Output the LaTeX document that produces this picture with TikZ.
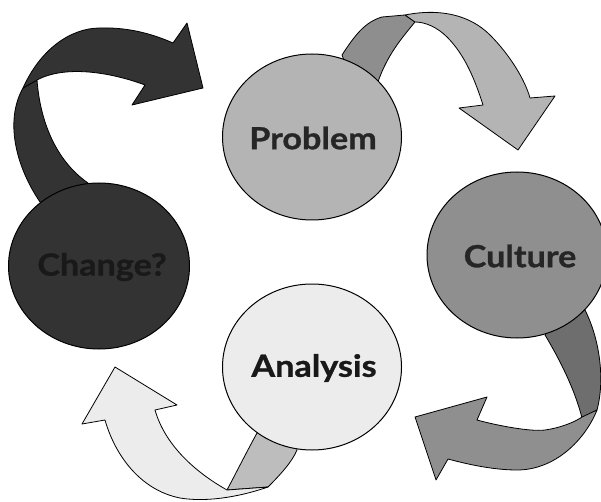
\documentclass[tikz,border=0pt]{standalone}
\usepackage{fontspec}
\setmainfont{Lato}
\newfontfamily\lblfont{Lato}[FakeStretch=1.12, BoldFeatures={FakeBold=1}]
\usetikzlibrary{shapes.geometric}
\definecolor{cDark}{HTML}{333333}
\definecolor{cProb}{HTML}{B4B4B4}
\definecolor{cProbB}{HTML}{8E8E8E}
\definecolor{cCult}{HTML}{8F8F8F}
\definecolor{cCultB}{HTML}{6E6E6E}
\definecolor{cAna}{HTML}{ECECEC}
\definecolor{cAnaB}{HTML}{BDBDBD}
\begin{document}
\begin{tikzpicture}[x=1pt,y=-1pt,
  ribbon/.style={draw=black, line width=0.8pt, line join=round},
  blob/.style={draw=black, line width=1pt, ellipse, inner sep=0pt},
  lbl/.style={font=\lblfont\fontsize{30.5}{32}\selectfont\bfseries, inner sep=0pt}]
\useasboundingbox (0,0) rectangle (601,502);
\clip (0,0) rectangle (601,502);

% Arrow 1: Change? -> Problem (dark)
\path[ribbon, fill=cDark] (60,225) -- (40,202) .. controls (15,165) and (5,120) .. (23,88)
  -- (37,80) .. controls (40,120) and (55,160) .. (88,183) -- (95,215) -- cycle;
\path[ribbon, fill=cDark] (23,88) .. controls (40,50) and (70,28) .. (100,28)
  .. controls (130,27) and (155,35) .. (173,43) -- (187,23) -- (203,88) -- (132,105) -- (145,85)
  .. controls (110,72) and (65,65) .. (37,80) -- cycle;

% Arrow 2: Problem -> Culture
\path[ribbon, fill=cProbB] (355,90) -- (342,55) .. controls (355,35) and (365,22) .. (382,17)
  -- (405,15) -- (415,22) .. controls (400,40) and (388,55) .. (379,79) -- (372,100) -- cycle;
\path[ribbon, fill=cProb] (405,15) .. controls (440,8) and (470,15) .. (490,35)
  .. controls (510,55) and (525,80) .. (530,98) -- (555,96) -- (518,150) -- (459,108) -- (483,105)
  .. controls (475,80) and (465,55) .. (447,37) .. controls (437,27) and (425,22) .. (415,22) -- cycle;

% Arrow 3: Culture -> Analysis
\path[ribbon, fill=cCultB] (555,315) -- (545,335) .. controls (560,360) and (575,390) .. (582,418)
  -- (597,410) .. controls (605,380) and (600,340) .. (585,310) -- (575,300) -- cycle;
\path[ribbon, fill=cCult] (597,410) .. controls (585,440) and (555,470) .. (517,470)
  .. controls (495,470) and (470,465) .. (448,459) -- (436,480) -- (415,417) -- (487,397) -- (477,420)
  .. controls (495,425) and (530,432) .. (545,430) .. controls (560,428) and (575,422) .. (582,417) -- cycle;

% Arrow 4: Analysis -> Change?
\path[ribbon, fill=cAnaB] (270,415) -- (257,433) .. controls (245,455) and (235,475) .. (227,490)
  -- (268,487) .. controls (280,475) and (292,462) .. (297,450) -- (295,420) -- cycle;
\path[ribbon, fill=cAna] (227,490) .. controls (195,472) and (165,445) .. (155,410)
  -- (177,405) -- (115,367) -- (82,424) -- (105,420)
  .. controls (115,455) and (140,490) .. (180,498) .. controls (210,503) and (245,495) .. (268,487) -- cycle;

% Circles
\node[blob, fill=cProb, minimum width=179pt, minimum height=166pt] (prob) at (312,137) {};
\node[blob, fill=cCult, minimum width=180pt, minimum height=166pt] (cult) at (517,255) {};
\node[blob, fill=cDark, minimum width=181pt, minimum height=166pt] (chg) at (99,266) {};
\node[blob, fill=cAna, minimum width=179pt, minimum height=166pt] (ana) at (312,367) {};

% Labels
\node[lbl, text=black!85] (probT) at (313,138) {Problem};
\node[lbl, text=black!85] (cultT) at (520,256) {Culture};
\node[lbl, text=black!90] (chgT) at (102,267) {Change?};
\node[lbl, text=black!90] (anaT) at (314,368) {Analysis};
\end{tikzpicture}
\end{document}
